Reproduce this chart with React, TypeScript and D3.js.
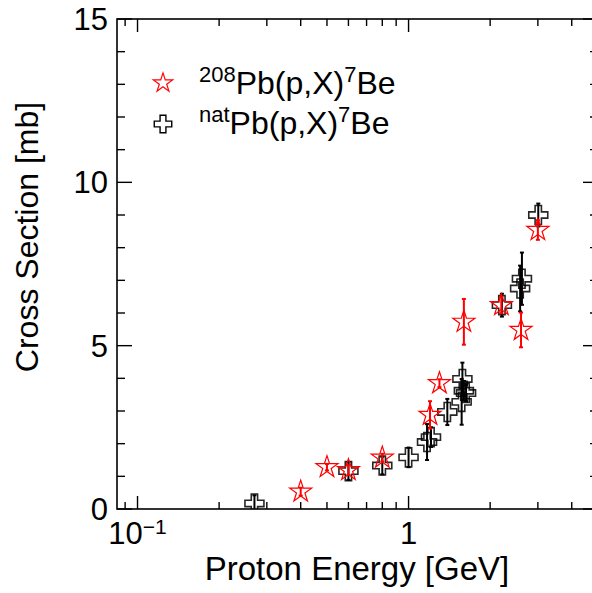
import React from "react";
import * as d3 from "d3";

// 208Pb(p,X)7Be
const pb208Energy = [0.4, 0.5, 0.6, 0.8, 1.2, 1.3, 1.6, 2.2, 2.6, 3.0];
const pb208Xs = [0.53, 1.28, 1.19, 1.57, 2.88, 3.85, 5.73, 6.24, 5.48, 8.54];
const pb208Err = [0.12, 0.1, 0.15, 0.12, 0.42, 0.12, 0.7, 0.25, 0.53, 0.3];

// natPb(p,X)7Be
const natEnergy = [0.27, 0.6, 0.8, 1.0, 1.17, 1.21, 1.39, 1.57, 1.58, 1.6, 1.63, 2.21, 2.58, 2.62, 3.01];
const natXs = [0.17, 1.16, 1.33, 1.58, 2.05, 2.2, 2.97, 3.28, 3.98, 3.62, 3.55, 6.24, 6.75, 7.05, 9.0];
const natErr = [0.25, 0.27, 0.27, 0.3, 0.55, 0.3, 0.4, 0.7, 0.5, 0.3, 0.25, 0.35, 0.7, 0.8, 0.35];

const yTickLabels = [0, 5, 10, 15];

const W = 592, H = 593;
const font = "'Liberation Sans', Arial, Helvetica, sans-serif";

export default function App() {
  const x = d3.scaleLog().domain([0.084, 5]).range([117, 598]);
  const y = d3.scaleLinear().domain([0, 15]).range([509, 19]);

  const xTicks = x.ticks();
  const isMajor = (v: number) => Math.abs(Math.log10(v) - Math.round(Math.log10(v))) < 1e-6;
  const yTicks = d3.range(0, 16);

  const star = d3.symbol(d3.symbolStar, 150)()!;
  const cross = d3.symbol(d3.symbolCross, 200)()!;
  const starLeg = d3.symbol(d3.symbolStar, 115)()!;
  const crossLeg = d3.symbol(d3.symbolCross, 170)()!;

  const errBar = (cx: number, v: number, e: number, color: string, key: string) => {
    const y0 = y(v - e), y1 = y(v + e);
    return (
      <g key={key} stroke={color} strokeWidth={2}>
        <line x1={cx} x2={cx} y1={y0} y2={y1} />
        <line x1={cx - 2} x2={cx + 2} y1={y0} y2={y0} />
        <line x1={cx - 2} x2={cx + 2} y1={y1} y2={y1} />
      </g>
    );
  };

  return (
    <svg width={W} height={H} style={{ position: "absolute", left: 0, top: 0 }} fontFamily={font}>
      <rect width={W} height={H} fill="white" />
      <defs>
        <clipPath id="plot">
          <rect x={117} y={19} width={481} height={490} />
        </clipPath>
      </defs>

      {/* frame */}
      <rect x={117} y={19} width={481} height={490} fill="none" stroke="black" strokeWidth={1.6} />

      {/* x ticks bottom & top */}
      {xTicks.map((t, i) => {
        const len = isMajor(t) ? 13 : 7;
        return (
          <g key={"xt" + i} stroke="black" strokeWidth={1.4}>
            <line x1={x(t)} x2={x(t)} y1={509} y2={509 - len} />
            <line x1={x(t)} x2={x(t)} y1={19} y2={19 + len} />
          </g>
        );
      })}
      {/* y ticks left & right */}
      {yTicks.map((t) => {
        const len = t % 5 === 0 ? 15 : 8;
        return (
          <g key={"yt" + t} stroke="black" strokeWidth={1.4}>
            <line x1={117} x2={117 + len} y1={y(t)} y2={y(t)} />
            <line x1={598} x2={598 - len} y1={y(t)} y2={y(t)} />
          </g>
        );
      })}

      {/* tick labels */}
      {yTickLabels.map((t) => (
        <text key={"yl" + t} x={108} y={y(t) + 11} fontSize={31} textAnchor="end">{t}</text>
      ))}
      <text x={x(0.1)} y={544} fontSize={31} textAnchor="middle">
        10<tspan fontSize={21} dy={-10}>−1</tspan>
      </text>
      <text x={x(1)} y={544} fontSize={31} textAnchor="middle">1</text>

      {/* axis titles */}
      <text x={357} y={580} fontSize={33} textAnchor="middle">Proton Energy [GeV]</text>
      <text transform="translate(38,237) rotate(-90)" fontSize={32} textAnchor="middle">Cross Section [mb]</text>

      <g clipPath="url(#plot)">
        {/* natPb crosses */}
        {natEnergy.map((e, i) => (
          <path key={"nc" + i} d={cross} transform={`translate(${x(e)},${y(natXs[i])})`}
            fill="none" stroke="black" strokeWidth={1.6} opacity={0.85} />
        ))}
        {natEnergy.map((e, i) => errBar(x(e), natXs[i], natErr[i], "black", "ne" + i))}

        {/* 208Pb stars */}
        {pb208Energy.map((e, i) => (
          <path key={"ps" + i} d={star} transform={`translate(${x(e)},${y(pb208Xs[i])})`}
            fill="none" stroke="#ff0000" strokeWidth={1.2} />
        ))}
        {pb208Energy.map((e, i) => errBar(x(e), pb208Xs[i], pb208Err[i], "#ff0000", "pe" + i))}
      </g>

      {/* legend */}
      <path d={starLeg} transform="translate(163,83)" fill="none" stroke="#ff0000" strokeWidth={1.2} />
      <text x={199} y={94} fontSize={32}>
        <tspan fontSize={22} dy={-12}>208</tspan><tspan dy={12}>Pb(p,X)</tspan>
        <tspan fontSize={22} dy={-12}>7</tspan><tspan dy={12}>Be</tspan>
      </text>
      <path d={crossLeg} transform="translate(163,124)" fill="none" stroke="black" strokeWidth={1.4} />
      <text x={199} y={134} fontSize={32}>
        <tspan fontSize={22} dy={-12}>nat</tspan><tspan dy={12}>Pb(p,X)</tspan>
        <tspan fontSize={22} dy={-12}>7</tspan><tspan dy={12}>Be</tspan>
      </text>
    </svg>
  );
}
